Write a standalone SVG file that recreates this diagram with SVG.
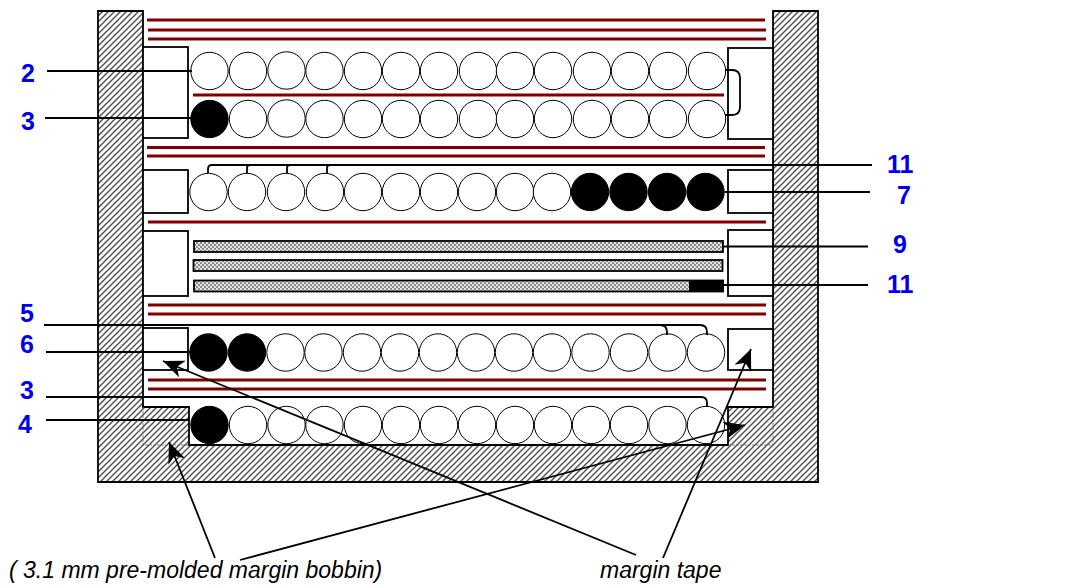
<svg xmlns="http://www.w3.org/2000/svg" width="1084" height="586" viewBox="0 0 1084 586">
<style>
.blk{fill:#fff;stroke:#000;stroke-width:1.8}
.red{stroke:#800000;stroke-width:2.8;fill:none}
.c{fill:#fff;stroke:#000;stroke-width:1}
.k{fill:#000;stroke:#000;stroke-width:1}
.bar{fill:url(#dots);stroke:#000;stroke-width:1.8}
.ln{fill:none;stroke:#000;stroke-width:1.8}
.arr{fill:none;stroke:#000;stroke-width:1.8;marker-end:url(#head)}
.dash{fill:none;stroke:#666;stroke-width:.8;stroke-dasharray:3 1}
.lab{font:bold 25px "Liberation Sans",Arial,sans-serif;fill:#0000f0}
.note{font:italic 23px "Liberation Sans",Arial,sans-serif;fill:#000}
</style>
<defs>
<pattern id="hatch" width="6" height="6" patternUnits="userSpaceOnUse">
<rect width="6" height="6" fill="#fff"/>
<path d="M-1,1L1,-1M0,6L6,0M5,7L7,5" stroke="#555" stroke-width="1.5"/>
</pattern>
<pattern id="dots" width="4" height="4" patternUnits="userSpaceOnUse">
<rect width="4" height="4" fill="#8e8e8e"/>
<circle cx="1" cy="1" r="1" fill="#fff"/><circle cx="3" cy="3" r="1" fill="#fff"/>
</pattern>
<marker id="head" markerUnits="userSpaceOnUse" markerWidth="24" markerHeight="20" refX="21" refY="10" orient="auto">
<path d="M0,1L21,10L0,19L6,10Z" fill="#000"/>
</marker>
<circle id="o" r="18.7" class="c"/>
<circle id="b" r="18.7" class="k"/>
</defs>

<g id="housing">
<path d="M98,11H143V407H189V445H728V407H773V11H818V482H98Z" fill="url(#hatch)"/>
<path d="M98,11H143V407H189V445H728V407H773V11H818V482H98Z" fill="none" stroke="#000" stroke-width="1.8"/>
<path class="dash" d="M143,407V445H189M773,407V445H728"/>
</g>

<g id="margin-blocks">
<rect class="blk" x="143" y="47" width="45" height="91"/>
<rect class="blk" x="728" y="48" width="45" height="91"/>
<rect class="blk" x="143" y="170" width="45" height="43"/>
<rect class="blk" x="728" y="170" width="45" height="43"/>
<rect class="blk" x="143" y="231" width="45" height="65"/>
<rect class="blk" x="728" y="230" width="45" height="66"/>
<rect class="blk" x="143" y="328" width="45" height="42"/>
<rect class="blk" x="728" y="329" width="45" height="41"/>
</g>

<g id="insulation">
<path class="red" d="M147,20H765M148,30H766M148,39H766M193,95H724M147,147.500H765M147,156H765M148,222H766M148,305H766M148,314H766M148,380H766M148,389H766"/>
</g>

<g id="row-2">
<use href="#o" x="209.500" y="71"/><use href="#o" x="248" y="71"/><use href="#o" x="286.500" y="70.500"/><use href="#o" x="324.500" y="71"/><use href="#o" x="363" y="71"/><use href="#o" x="401" y="71"/><use href="#o" x="439" y="71"/><use href="#o" x="478" y="71"/><use href="#o" x="515" y="71"/><use href="#o" x="553" y="71"/><use href="#o" x="592" y="71"/><use href="#o" x="630" y="71"/><use href="#o" x="668" y="71"/><use href="#o" x="707" y="71"/>
</g>
<g id="row-3">
<use href="#b" x="209.500" y="119"/><use href="#o" x="248" y="119"/><use href="#o" x="286.500" y="118.500"/><use href="#o" x="324.500" y="119"/><use href="#o" x="363" y="119"/><use href="#o" x="401" y="119"/><use href="#o" x="439" y="119"/><use href="#o" x="478" y="119"/><use href="#o" x="515" y="119"/><use href="#o" x="553" y="119"/><use href="#o" x="592" y="119"/><use href="#o" x="630" y="119"/><use href="#o" x="668" y="119"/><use href="#o" x="707" y="119"/>
</g>
<g id="row-7">
<use href="#o" x="208.500" y="192"/><use href="#o" x="247" y="192"/><use href="#o" x="286" y="192"/><use href="#o" x="325" y="192"/><use href="#o" x="363" y="192"/><use href="#o" x="401" y="192"/><use href="#o" x="439" y="192"/><use href="#o" x="477" y="192"/><use href="#o" x="515" y="192"/><use href="#o" x="552" y="192"/><use href="#b" x="590" y="192"/><use href="#b" x="628.500" y="192"/><use href="#b" x="667" y="192"/><use href="#b" x="705.500" y="192"/>
</g>
<g id="foils">
<rect class="bar" x="194" y="241" width="529" height="11"/>
<rect class="bar" x="193.500" y="260" width="529" height="11"/>
<rect class="bar" x="194" y="280.500" width="529" height="11"/>
<rect x="689" y="280" width="35" height="12" fill="#000"/>
</g>
<g id="row-6">
<use href="#b" x="208.500" y="352.500"/><use href="#b" x="247" y="352.500"/><use href="#o" x="285.500" y="352.500"/><use href="#o" x="323.500" y="352.500"/><use href="#o" x="362" y="352.500"/><use href="#o" x="400" y="352.500"/><use href="#o" x="438" y="352.500"/><use href="#o" x="476" y="352.500"/><use href="#o" x="514" y="352.500"/><use href="#o" x="552" y="352.500"/><use href="#o" x="590.500" y="352.500"/><use href="#o" x="629" y="352.500"/><use href="#o" x="667.500" y="352.500"/><use href="#o" x="706" y="352.500"/>
</g>
<g id="row-4">
<use href="#b" x="209.500" y="425"/><use href="#o" x="248" y="425"/><use href="#o" x="286.500" y="425"/><use href="#o" x="324.500" y="425"/><use href="#o" x="363" y="425"/><use href="#o" x="401" y="425"/><use href="#o" x="439" y="425"/><use href="#o" x="477" y="425"/><use href="#o" x="515" y="425"/><use href="#o" x="553" y="425"/><use href="#o" x="591" y="425"/><use href="#o" x="629" y="425"/><use href="#o" x="667.500" y="425"/><use href="#o" x="706" y="425"/>
</g>

<g id="connectors">
<path class="ln" d="M47,71H192"/>
<path class="ln" d="M45,118H192"/>
<path class="ln" d="M725,70H732Q740,70 740,78V107Q740,115 732,115H725"/>
<path class="ln" d="M208,173V169Q208,165 212,165H872M247,173V168Q247,165 250,165M287,173V168Q287,165 290,165M327,173V168Q327,165 330,165"/>
<path class="ln" d="M725,192H870"/>
<path class="ln" d="M723,246.500H868"/>
<path class="ln" d="M723,285H868"/>
<path class="ln" d="M44,325H700Q707,325 707,332V335M660,325Q667,325 667,332V335"/>
<path class="ln" d="M46,352H190"/>
<path class="ln" d="M46,397H701Q707,397 707,403V407"/>
<path class="ln" d="M46,420H190"/>
<path class="arr" d="M215,558L169,442"/>
<path class="arr" d="M240,560L745,425"/>
<path class="arr" d="M636,555L163,361"/>
<path class="arr" d="M663,558L751,349"/>
</g>

<g id="labels">
<text class="lab" x="21" y="82">2</text>
<text class="lab" x="21" y="130">3</text>
<text class="lab" x="887" y="173">11</text>
<text class="lab" x="897" y="204">7</text>
<text class="lab" x="893" y="253">9</text>
<text class="lab" x="887" y="293">11</text>
<text class="lab" x="20" y="322">5</text>
<text class="lab" x="20" y="353">6</text>
<text class="lab" x="20" y="399">3</text>
<text class="lab" x="18" y="433">4</text>
<text class="note" x="9" y="578">( 3.1 mm pre-molded margin bobbin)</text>
<text class="note" x="600" y="578">margin tape</text>
</g>
</svg>
